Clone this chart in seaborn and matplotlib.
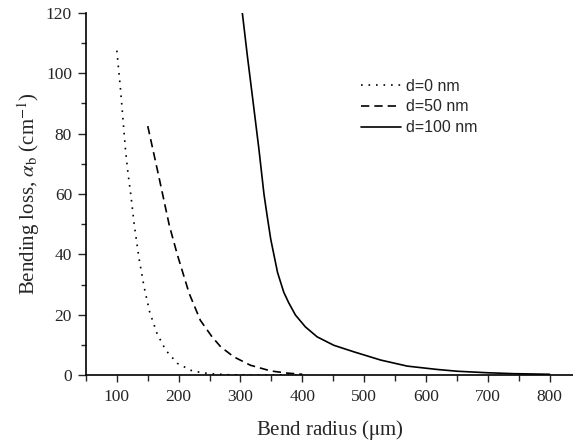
import matplotlib
matplotlib.use("Agg")
import matplotlib.pyplot as plt
import seaborn as sns
from matplotlib.ticker import MultipleLocator

# bend radius (um) and bending loss (1/cm)
r_d0 = [100, 106, 110, 114, 118, 123, 128, 136, 144, 153, 165, 179, 198, 222, 249, 280, 320, 400]
loss_d0 = [107.5, 94.5, 84.5, 74.6, 66.9, 59.1, 50.0, 38.5, 29.3, 21.0, 13.8, 8.3, 3.9, 1.4, 0.5, 0.15, 0.03, 0.0]

r_d50 = [150, 168, 185, 198, 217, 235, 254, 268, 289, 316, 349, 375, 400]
loss_d50 = [82.5, 65.7, 49.5, 39.8, 27.1, 18.2, 12.7, 9.4, 6.1, 3.3, 1.4, 0.7, 0.3]

r_d100 = [303, 311, 320, 330, 338, 343, 349, 355, 360, 370, 378, 389, 405, 424, 451, 484,
          527, 570, 618, 651, 700, 742, 800]
loss_d100 = [120.0, 106.0, 91.2, 74.6, 60.0, 53.0, 45.0, 39.0, 34.0, 27.5, 24.0, 19.9, 16.0,
             12.7, 9.9, 7.7, 5.0, 3.0, 1.9, 1.3, 0.8, 0.5, 0.3]

labels = ["d=0 nm", "d=50 nm", "d=100 nm"]

sns.set_style("ticks")
plt.rcParams['font.family'] = ['Liberation Serif', 'DejaVu Serif']
plt.rcParams['mathtext.fontset'] = 'stix'

fig = plt.figure(figsize=(5.73, 4.44), dpi=100)
ax = fig.add_axes([0.150, 0.155, 0.85, 0.816])

sns.lineplot(x=r_d0, y=loss_d0, ax=ax, color='black', lw=1.2,
             linestyle=(0, (1, 3.5)), label=labels[0])
sns.lineplot(x=r_d50, y=loss_d50, ax=ax, color='black', lw=1.2,
             linestyle=(0, (5, 3)), label=labels[1])
sns.lineplot(x=r_d100, y=loss_d100, ax=ax, color='black', lw=1.2,
             linestyle='-', label=labels[2])

ax.set_xlim(50, 838)
ax.set_ylim(0, 120)
ax.xaxis.set_major_locator(MultipleLocator(100))
ax.xaxis.set_minor_locator(MultipleLocator(50))
ax.yaxis.set_major_locator(MultipleLocator(20))
ax.yaxis.set_minor_locator(MultipleLocator(10))
ax.tick_params(axis='x', which='major', length=5, width=1, pad=5, labelsize=12.5, direction='out')
ax.tick_params(axis='x', which='minor', length=4, width=1, direction='out')
ax.tick_params(axis='y', which='major', length=6, width=1, pad=4, labelsize=12.5, direction='out')
ax.tick_params(axis='y', which='minor', length=3.5, width=1, direction='out')

for side in ['top', 'right']:
    ax.spines[side].set_visible(False)
for side in ['left', 'bottom']:
    ax.spines[side].set_linewidth(1.2)
    ax.spines[side].set_color('black')

ax.set_xlabel(r'Bend radius ($\mathrm{\mu}$m)', fontsize=15, labelpad=9)
ax.set_ylabel(r'Bending loss, $\alpha_{\mathrm{b}}$ (cm$^{-1}$)', fontsize=15, labelpad=3)

leg = ax.legend(loc='upper left', bbox_to_anchor=(0.630, 0.823), bbox_transform=fig.transFigure,
                frameon=False, borderaxespad=0, borderpad=0, handlelength=2.5,
                handletextpad=0.3, labelspacing=0.37,
                prop={'family': 'Liberation Sans', 'size': 11.5})

fig.savefig('out.png', dpi=100)
